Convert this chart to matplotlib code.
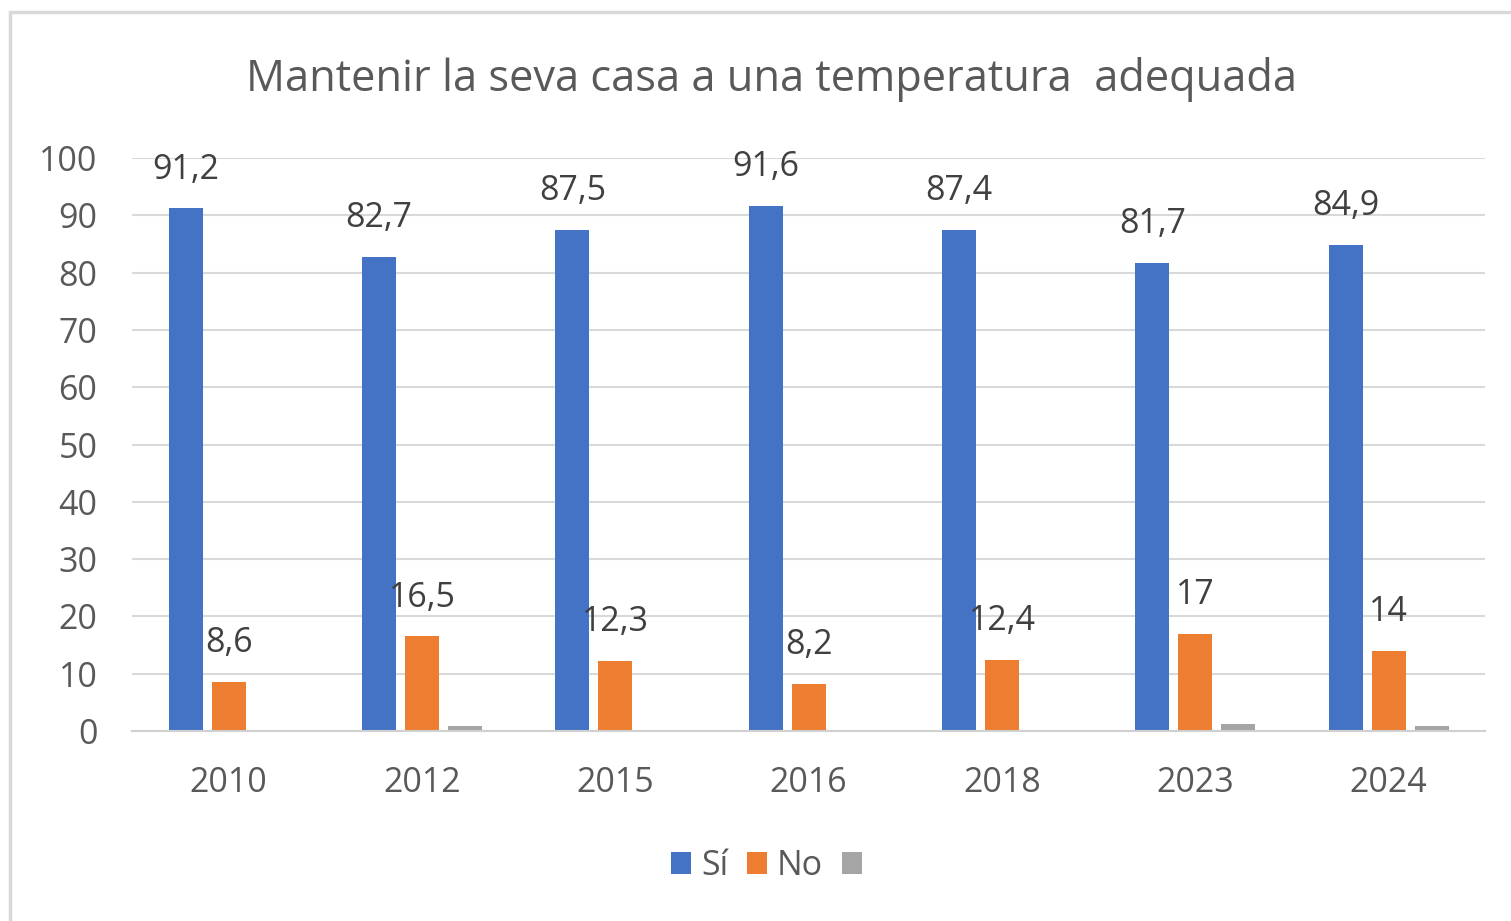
import numpy as np
import matplotlib.pyplot as plt
from matplotlib.patches import Rectangle

plt.rcParams['font.family'] = ['Open Sans', 'DejaVu Sans']

years = ['2010', '2012', '2015', '2016', '2018', '2023', '2024']
si = [91.2, 82.7, 87.5, 91.6, 87.4, 81.7, 84.9]
no = [8.6, 16.5, 12.3, 8.2, 12.4, 17, 14]
blank = [0, 0.8, 0, 0, 0, 1.3, 0.9]

si_labels = ['91,2', '82,7', '87,5', '91,6', '87,4', '81,7', '84,9']
no_labels = ['8,6', '16,5', '12,3', '8,2', '12,4', '17', '14']

blue = '#4472C4'
orange = '#ED7D31'
grey = '#A5A5A5'
text_col = '#595959'
grid_col = '#D9D9D9'

fig = plt.figure(figsize=(15.11, 9.21), dpi=100)
ax = fig.add_axes([0.0874, 0.2063, 0.8956, 0.6221])

x = np.arange(len(years))
w = 0.176
off = 0.222
b1 = ax.bar(x - off, si, w, color=blue, label='Sí', zorder=3)
b2 = ax.bar(x, no, w, color=orange, label='No', zorder=3)
b3 = ax.bar(x + off, blank, w, color=grey, label=' ', zorder=3)

for bars, labs in ((b1, si_labels), (b2, no_labels)):
    for r, lab in zip(bars, labs):
        ax.annotate(lab, (r.get_x() + r.get_width() / 2, r.get_height()),
                    xytext=(0, 28), textcoords='offset points',
                    ha='center', va='center', fontsize=24.5, color='#404040',
                    zorder=4)

ax.set_xlim(-0.5, len(years) - 0.5)
ax.set_ylim(0, 100)
ax.set_yticks(range(0, 101, 10))
ax.set_xticks(x)
ax.set_xticklabels(years)
ax.tick_params(axis='both', length=0, labelsize=24.5, labelcolor=text_col)
ax.tick_params(axis='y', pad=25)
ax.tick_params(axis='x', pad=25)
ax.yaxis.grid(True, color=grid_col, linewidth=1.5, zorder=0)
for s in ['top', 'right', 'left']:
    ax.spines[s].set_visible(False)
ax.spines['bottom'].set_color('#D0D0D0')
ax.spines['bottom'].set_linewidth(1.5)
ax.spines['bottom'].set_zorder(3.5)

fig.text(772 / 1511, 1 - 79 / 921, 'Mantenir la seva casa a una temperatura  adequada',
         ha='center', va='center', fontsize=31.2, color=text_col)

leg = fig.legend(handles=[b1, b2, b3], loc='center', bbox_to_anchor=(776 / 1511, 1 - 866 / 921),
                 ncol=3, frameon=False, fontsize=24.5, handlelength=0.58, handleheight=0.58,
                 handletextpad=0.3, columnspacing=0.55)
for t in leg.get_texts():
    t.set_color(text_col)

fig.patches.append(Rectangle((10 / 1511, -0.05), 1.1, 1.05 - 12 / 921,
                             transform=fig.transFigure, fill=False,
                             edgecolor=grid_col, linewidth=2.5))

fig.savefig('out.png', dpi=100)
